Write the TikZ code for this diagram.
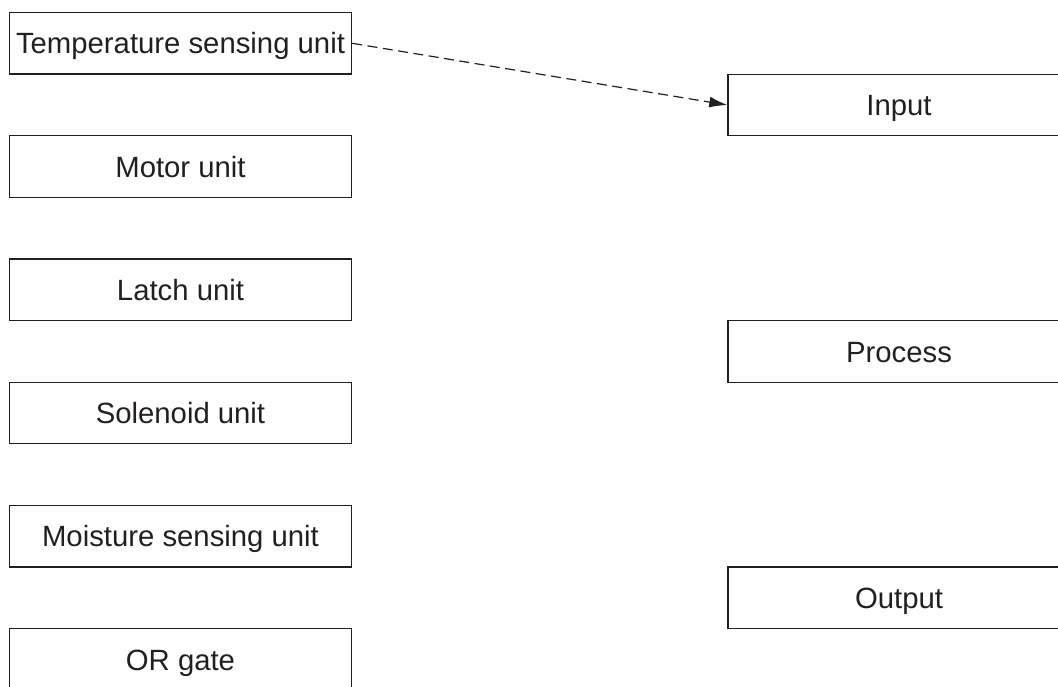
\documentclass[tikz,border=0pt]{standalone}
\usepackage{fontspec}
\setmainfont{Liberation Sans}
\usetikzlibrary{arrows.meta}
\definecolor{ink}{RGB}{35,31,32}
\begin{document}
\begin{tikzpicture}[x=1pt,y=-1pt,
  unitbox/.style={draw=ink, line width=1.4pt, minimum width=342pt, minimum height=61.5pt,
    inner sep=0pt, text height=21pt, text depth=0pt,
    font=\fontsize{29.3}{32}\selectfont, text=ink, anchor=center},
  flow/.style={draw=ink, line width=1.2pt, dash pattern=on 10pt off 5.5pt,
    -{Latex[length=18pt,width=11pt]}}]
  \useasboundingbox (0,0) rectangle (1058,686);
  \clip (0,0) rectangle (1058,686);
  % component boxes (left column)
  \node[unitbox] (temp) at (180.5,43.3) {Temperature sensing unit};
  \node[unitbox] (motor) at (180.5,166.5) {Motor unit};
  \node[unitbox] (latch) at (180.5,289.8) {Latch unit};
  \node[unitbox] (sol) at (180.5,413) {Solenoid unit};
  \node[unitbox] (moist) at (180.5,536.2) {Moisture sensing unit};
  \node[unitbox] (orgate) at (180.5,659.5) {OR gate};
  % system stages (right column)
  \node[unitbox] (input) at (899,105) {Input};
  \node[unitbox] (process) at (899,351.5) {Process};
  \node[unitbox] (output) at (899,597.7) {Output};
  % example link
  \draw[flow] (temp.east) -- (input.west);
\end{tikzpicture}
\end{document}
